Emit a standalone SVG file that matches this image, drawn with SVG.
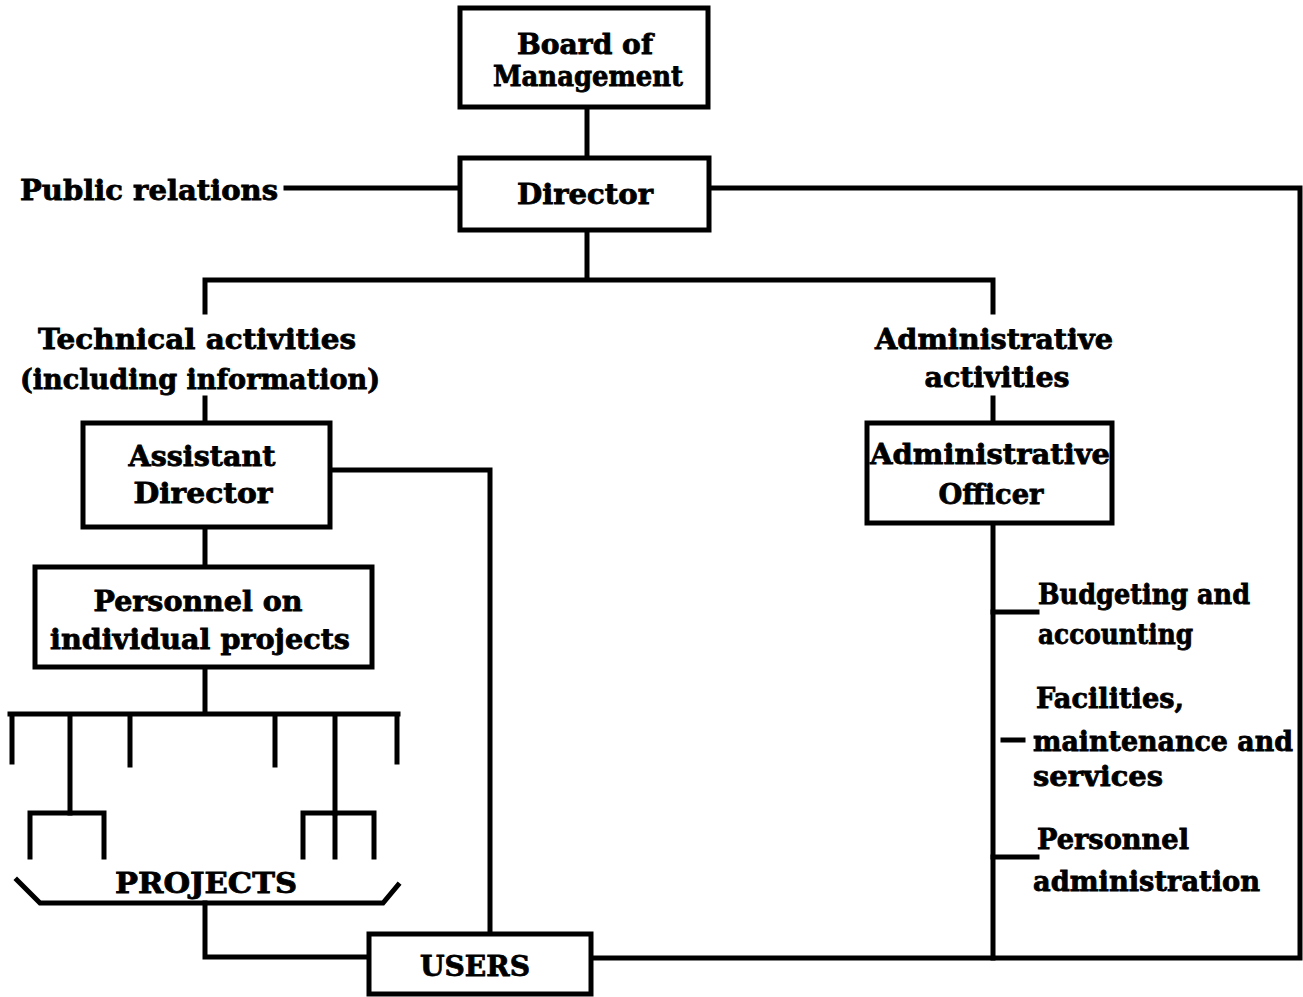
<svg xmlns="http://www.w3.org/2000/svg" width="1303" height="997" viewBox="0 0 1303 997">
<style>
.box{fill:#fff;stroke:#000;stroke-width:5}
.ln{fill:none;stroke:#000;stroke-width:5;stroke-linecap:square;stroke-linejoin:miter}
text{font-family:"DejaVu Serif","Liberation Serif",serif;font-weight:bold;font-size:28px;fill:#000;stroke:#000;stroke-width:0.8}
.c{text-anchor:middle}
</style>
<rect width="1303" height="997" fill="#fff"/>
<g id="connectors" class="ln">
<path d="M587 108V157"/>
<path d="M286 188H460"/>
<path d="M709 188H1300V958H593"/>
<path d="M587 230V280M205 280H993M205 280V312M993 280V312"/>
<path d="M205 398V423M993 398V423"/>
<path d="M330 470H490V932"/>
<path d="M205 527V567M205 667V713"/>
<path d="M10 714H398M12 714V762M70 714V813M130 714V765M275 714V765M335 714V813M397 714V762"/>
<path d="M30 813H104M30 813V857M104 813V857"/>
<path d="M303 813H374M303 813V857M335 813V857M374 813V857"/>
<path d="M17 880L40 903H383L398 885"/>
<path d="M205 903V957H367"/>
<path d="M993 523V958"/>
<path d="M993 612H1037M993 857H1037M1003 740H1023"/>
</g>
<g id="board"><rect class="box" x="460" y="8" width="248" height="99"/>
<text class="c" x="585" y="54" textLength="136" lengthAdjust="spacingAndGlyphs">Board of</text>
<text class="c" x="588" y="86" textLength="190" lengthAdjust="spacingAndGlyphs">Management</text></g>
<g id="director"><rect class="box" x="460" y="158" width="249" height="72"/>
<text class="c" x="585" y="204" textLength="136" lengthAdjust="spacingAndGlyphs">Director</text></g>
<g id="public"><text x="20" y="200" textLength="258" lengthAdjust="spacingAndGlyphs">Public relations</text></g>
<g id="technical"><text class="c" x="197" y="349" textLength="318" lengthAdjust="spacingAndGlyphs">Technical activities</text>
<text class="c" x="200" y="389" textLength="360" lengthAdjust="spacingAndGlyphs">(including information)</text></g>
<g id="administrative"><text class="c" x="994" y="349" textLength="238" lengthAdjust="spacingAndGlyphs">Administrative</text>
<text class="c" x="997" y="387" textLength="145" lengthAdjust="spacingAndGlyphs">activities</text></g>
<g id="assistant"><rect class="box" x="83" y="423" width="247" height="104"/>
<text class="c" x="202" y="466" textLength="147" lengthAdjust="spacingAndGlyphs">Assistant</text>
<text class="c" x="203" y="503" textLength="139" lengthAdjust="spacingAndGlyphs">Director</text></g>
<g id="personnel"><rect class="box" x="35" y="567" width="337" height="100"/>
<text class="c" x="198" y="611" textLength="209" lengthAdjust="spacingAndGlyphs">Personnel on</text>
<text class="c" x="200" y="649" textLength="300" lengthAdjust="spacingAndGlyphs">individual projects</text></g>
<g id="officer"><rect class="box" x="867" y="423" width="245" height="100"/>
<text class="c" x="990" y="464" textLength="240" lengthAdjust="spacingAndGlyphs">Administrative</text>
<text class="c" x="991" y="504" textLength="105" lengthAdjust="spacingAndGlyphs">Officer</text></g>
<g id="budgeting"><text x="1038" y="604" textLength="212" lengthAdjust="spacingAndGlyphs">Budgeting and</text>
<text x="1038" y="644" textLength="155" lengthAdjust="spacingAndGlyphs">accounting</text></g>
<g id="facilities"><text x="1036" y="708" textLength="148" lengthAdjust="spacingAndGlyphs">Facilities,</text>
<text x="1033" y="751" textLength="260" lengthAdjust="spacingAndGlyphs">maintenance and</text>
<text x="1033" y="786" textLength="130" lengthAdjust="spacingAndGlyphs">services</text></g>
<g id="personnel-admin"><text x="1037" y="849" textLength="152" lengthAdjust="spacingAndGlyphs">Personnel</text>
<text x="1033" y="891" textLength="227" lengthAdjust="spacingAndGlyphs">administration</text></g>
<g id="projects"><text class="c" x="206" y="893" textLength="182" lengthAdjust="spacingAndGlyphs">PROJECTS</text></g>
<g id="users"><rect class="box" x="369" y="934" width="222" height="60"/>
<text class="c" x="475" y="976" textLength="110" lengthAdjust="spacingAndGlyphs">USERS</text></g>
</svg>
